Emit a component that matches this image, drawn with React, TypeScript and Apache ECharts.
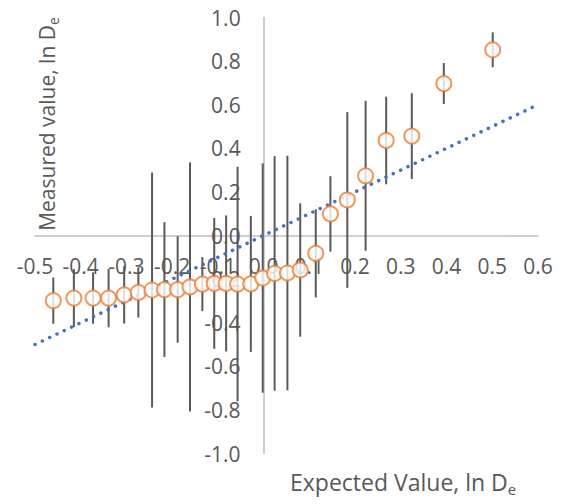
import React, { useEffect, useRef } from "react";
import * as echarts from "echarts";

const xVals = [-0.46, -0.415, -0.373, -0.339, -0.305, -0.274, -0.244, -0.217, -0.188, -0.161, -0.134, -0.108, -0.082, -0.057, -0.028, -0.002, 0.024, 0.052, 0.08, 0.114, 0.146, 0.183, 0.223, 0.268, 0.324, 0.394, 0.501];
const yVals = [-0.299, -0.287, -0.287, -0.287, -0.272, -0.261, -0.25, -0.248, -0.248, -0.236, -0.223, -0.22, -0.22, -0.223, -0.222, -0.195, -0.174, -0.172, -0.158, -0.082, 0.099, 0.163, 0.274, 0.436, 0.456, 0.697, 0.852];
const errVals = [0.106, 0.133, 0.118, 0.134, 0.132, 0.115, 0.539, 0.309, 0.244, 0.571, 0.124, 0.3, 0.312, 0.538, 0.312, 0.526, 0.538, 0.538, 0.306, 0.202, 0.173, 0.403, 0.344, 0.201, 0.197, 0.094, 0.08];
const refLine = [[-0.5, -0.5], [0.6, 0.6]];
const xTitle = "Expected Value, ln D";
const yTitle = "Measured value, ln D";
const subscript = "e";

const FONT = "Open Sans";
const GRAY = "#595959";

const GRID = { left: 35, right: 38, top: 17.5, bottom: 50.5 };
const W = 576;
const H = 504;
const X_MIN = -0.5;
const X_MAX = 0.6;
const Y_MIN = -1;
const Y_MAX = 1;

const fmt = (v: number) => (Math.abs(v) < 1e-9 ? "0.0" : v.toFixed(1));

const richFor = (size: number, sub: number, drop: number) => ({
  a: { fontFamily: FONT, fontSize: size, fill: GRAY, color: GRAY },
  s: { fontFamily: FONT, fontSize: sub, fill: GRAY, color: GRAY, padding: [drop, 0, 0, 0] },
});

export default function App() {
  const ref = useRef<HTMLDivElement>(null);
  useEffect(() => {
    if (!ref.current) return;
    const chart = echarts.init(ref.current, null, { renderer: "svg" });
    const pts = xVals.map((x, i) => [x, yVals[i], errVals[i]]);
    const plotW = W - GRID.left - GRID.right;
    const plotH = H - GRID.top - GRID.bottom;
    // move axes so they cross at zero
    const xOffset = -(plotH * (0 - Y_MIN)) / (Y_MAX - Y_MIN);
    const yOffset = -(plotW * (0 - X_MIN)) / (X_MAX - X_MIN);
    chart.setOption({
      animation: false,
      backgroundColor: "#fff",
      grid: { ...GRID, containLabel: false, outerBoundsMode: "none" },
      xAxis: {
        type: "value",
        position: "bottom",
        offset: xOffset,
        min: X_MIN,
        max: X_MAX,
        interval: 0.1,
        axisLine: { onZero: false, lineStyle: { color: "#BFBFBF", width: 1.5 } },
        axisTick: { show: false },
        splitLine: { show: false },
        axisLabel: { formatter: fmt, fontFamily: FONT, fontSize: 21, color: GRAY, margin: 20, showMinLabel: true, showMaxLabel: true },
      },
      yAxis: {
        type: "value",
        position: "left",
        offset: yOffset,
        min: Y_MIN,
        max: Y_MAX,
        interval: 0.2,
        axisLine: { onZero: false, show: true, lineStyle: { color: "#BFBFBF", width: 1.5 } },
        axisTick: { show: false },
        splitLine: { show: false },
        axisLabel: { formatter: fmt, fontFamily: FONT, fontSize: 21, color: GRAY, margin: 23, showMinLabel: true, showMaxLabel: true },
      },
      graphic: [
        {
          type: "text",
          x: 290,
          y: 482,
          style: {
            text: `{a|${xTitle}}{s|${subscript}}`,
            rich: richFor(23, 15, 13),
            textAlign: "left",
            textVerticalAlign: "middle",
          },
        },
        {
          type: "text",
          x: 47,
          y: 124,
          rotation: Math.PI / 2,
          style: {
            text: `{a|${yTitle}}{s|${subscript}}`,
            rich: richFor(21, 14, 12),
            textAlign: "center",
            textVerticalAlign: "middle",
          },
        },
      ],
      series: [
        {
          type: "custom",
          z: 1,
          data: pts,
          encode: { x: 0, y: 1 },
          renderItem: (params: any, api: any) => {
            const x = api.value(0);
            const y = api.value(1);
            const e = api.value(2);
            const p1 = api.coord([x, y + e]);
            const p2 = api.coord([x, y - e]);
            return {
              type: "line",
              shape: { x1: p1[0], y1: p1[1], x2: p2[0], y2: p2[1] },
              style: { stroke: GRAY, lineWidth: 2 },
            };
          },
        },
        {
          type: "line",
          z: 2,
          data: refLine,
          symbol: "none",
          lineStyle: { color: "#4472C4", width: 3.5, type: [0.1, 8], cap: "round" },
        },
        {
          type: "scatter",
          z: 3,
          data: xVals.map((x, i) => [x, yVals[i]]),
          symbol: "circle",
          symbolSize: 15,
          itemStyle: { color: "#fff", borderColor: "#ED7D31", borderWidth: 2 },
        },
      ],
    });
    return () => chart.dispose();
  }, []);
  return <div ref={ref} style={{ position: "fixed", left: 0, top: 0, width: W, height: H }} />;
}
